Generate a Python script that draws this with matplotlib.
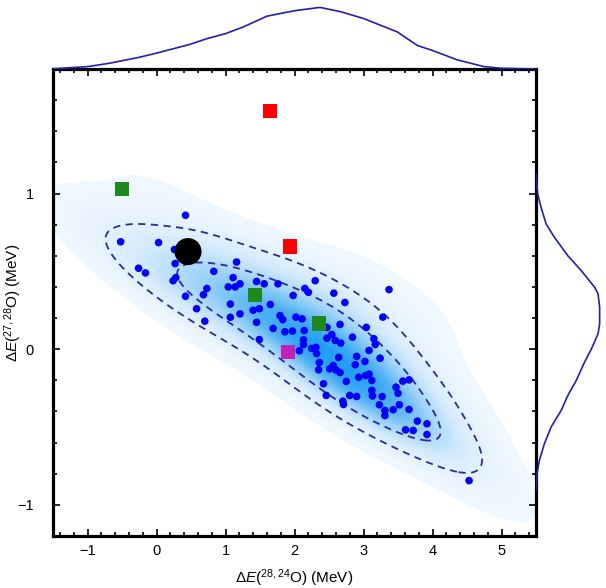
import numpy as np
import matplotlib
matplotlib.use("Agg")
from matplotlib import pyplot as plt
from matplotlib.colors import LinearSegmentedColormap
from matplotlib.ticker import MultipleLocator

plt.rcParams['font.family'] = ['Liberation Sans', 'DejaVu Sans']
plt.rcParams['mathtext.fontset'] = 'custom'
plt.rcParams['mathtext.rm'] = 'Liberation Sans'
plt.rcParams['mathtext.it'] = 'Liberation Sans:italic'

# scatter sample: dE(28,24O), dE(27,28O) in MeV
sample_x = [
    0.42, -0.52, 0.03, 0.26, 0.27, -0.26, -0.16, 0.28, 0.24, 0.83,
    1.16, 1.11, 1.04, 1.14, 1.21, 1.45, 1.56, 1.76, 0.73, 0.68,
    0.42, 0.58, 0.70, 1.07, 1.07, 1.21, 1.40, 1.49, 1.45, 1.49,
    1.65, 1.79, 1.83, 1.69, 1.86, 1.97, 1.98, 2.02, 2.11, 2.14,
    2.13, 2.13, 2.07, 2.30, 2.15, 2.20, 2.57, 2.73, 3.37, 3.28,
    3.04, 2.47, 2.66, 2.47, 2.54, 2.59, 2.67, 2.84, 3.15, 3.17,
    2.25, 2.31, 2.32, 3.08, 3.24, 2.64, 2.90, 2.88, 3.02, 2.36,
    2.35, 2.51, 2.56, 2.60, 2.66, 2.93, 3.03, 3.08, 3.12, 2.75,
    2.42, 3.57, 3.66, 3.47, 3.50, 3.12, 2.46, 2.80, 2.90, 3.13,
    3.27, 2.70, 2.71, 3.23, 3.31, 3.31, 3.43, 3.52, 3.66, 3.78,
    3.92, 3.92, 3.61, 3.72, 4.53,
]
sample_y = [
    0.86, 0.69, 0.685, 0.64, 0.55, 0.52, 0.49, 0.46, 0.44, 0.50,
    0.56, 0.46, 0.40, 0.40, 0.42, 0.435, 0.42, 0.42, 0.39, 0.35,
    0.34, 0.26, 0.18, 0.29, 0.205, 0.227, 0.25, 0.26, 0.173, 0.062,
    0.287, 0.216, 0.19, 0.133, 0.112, 0.116, 0.345, 0.206, 0.195, 0.12,
    0.06, 0.03, -0.01, 0.44, 0.39, 0.366, 0.36, 0.30, 0.383, 0.206,
    0.14, 0.14, 0.159, 0.071, 0.094, 0.056, 0.039, 0.077, 0.067, 0.03,
    0.005, 0.012, -0.028, -0.008, -0.058, -0.053, -0.046, -0.10, -0.079, -0.085,
    -0.132, -0.126, -0.105, -0.133, -0.15, -0.18, -0.169, -0.16, -0.201, -0.207,
    -0.222, -0.205, -0.197, -0.244, -0.283, -0.265, -0.297, -0.297, -0.304, -0.30,
    -0.304, -0.334, -0.355, -0.357, -0.394, -0.426, -0.389, -0.357, -0.387, -0.462,
    -0.479, -0.548, -0.518, -0.522, -0.844,
]

# model predictions
red_x, red_y = [1.65, 1.94], [1.53, 0.66]
green_x, green_y = [-0.50, 1.43, 2.35], [1.03, 0.35, 0.165]
magenta_x, magenta_y = [1.90], [-0.02]
exp_x, exp_y = [0.456], [0.627]

# marginal densities (arbitrary units)
top_pos = [-1.55, -1.0, -0.68, -0.24, 0.0, 0.48, 0.73, 1.0, 1.26, 1.6,
           2.0, 2.37, 2.67, 3.0, 3.49, 3.78, 4.0, 4.36, 4.75, 5.0, 5.5]
top_dens = [0.0, 2.3, 5.7, 11.7, 15.7, 24.3, 30.0, 35.0, 41.7, 52.3,
            57.7, 61.0, 56.7, 50.0, 36.7, 23.3, 18.3, 9.0, 2.3, 0.7, 0.0]
right_pos = [1.127, 0.998, 0.912, 0.805, 0.719, 0.60, 0.505, 0.398, 0.356, 0.27,
             0.163, 0.099, 0.0, -0.083, -0.201, -0.297, -0.394, -0.50, -0.608,
             -0.715, -0.80, -0.907]
right_dens = [0.0, 1.7, 5.0, 10.0, 18.3, 31.7, 45.0, 58.3, 61.7, 63.3,
              63.3, 61.7, 55.0, 48.3, 40.0, 31.7, 25.0, 15.0, 8.3,
              3.3, 1.0, 0.0]


def kde_grid(x, y, gx, gy, factor):
    data = np.vstack([x, y])
    cov = np.cov(data) * factor ** 2
    inv = np.linalg.inv(cov)
    norm = 1.0 / (2 * np.pi * np.sqrt(np.linalg.det(cov)) * data.shape[1])
    d0 = gx.ravel()[:, None] - data[0][None, :]
    d1 = gy.ravel()[:, None] - data[1][None, :]
    q = inv[0, 0] * d0 ** 2 + 2 * inv[0, 1] * d0 * d1 + inv[1, 1] * d1 ** 2
    return (np.exp(-0.5 * q).sum(axis=1) * norm).reshape(gx.shape)


def hdr_level(z, cell, mass):
    zs = np.sort(z.ravel())[::-1]
    cum = np.cumsum(zs) * cell
    return zs[np.searchsorted(cum, mass)]


xs = np.linspace(-1.5, 5.5, 350)
ys = np.linspace(-1.2, 1.8, 220)
GX, GY = np.meshgrid(xs, ys)
Z = kde_grid(np.array(sample_x), np.array(sample_y), GX, GY, 0.65)
cell = (xs[1] - xs[0]) * (ys[1] - ys[0])

fig = plt.figure(figsize=(6.06, 5.88), dpi=100)
ax = fig.add_axes([0.0875, 0.0884, 0.797, 0.7943])
ax_top = fig.add_axes([0.0875, 0.8827, 0.797, 0.1173], sharex=ax)
ax_right = fig.add_axes([0.8845, 0.0884, 0.1155, 0.7943], sharey=ax)

cmap = LinearSegmentedColormap.from_list(
    'kde', ['#f1f8ff', '#d0e9fc', '#94cff7', '#52b2f4', '#219ef2'])
lo = hdr_level(Z, cell, 0.985)
ax.contourf(GX, GY, Z, levels=np.linspace(lo, Z.max(), 40), cmap=cmap, zorder=1)
lv = sorted([hdr_level(Z, cell, 0.62), hdr_level(Z, cell, 0.88)])
ax.contour(GX, GY, Z, levels=lv, colors='#2b2b9e', linewidths=1.3,
           linestyles=[(0, (4, 3))], zorder=2)

ax.scatter(sample_x, sample_y, s=30, color='#0000ff', edgecolors='none', zorder=3)
ax.scatter(red_x, red_y, s=105, marker='s', color='#ff0000', edgecolors='none', zorder=4)
ax.scatter(green_x, green_y, s=105, marker='s', color='#1e8a1e', edgecolors='none', zorder=4)
ax.scatter(magenta_x, magenta_y, s=105, marker='s', color='#c020b8', edgecolors='none', zorder=4)
ax.scatter(exp_x, exp_y, s=380, color='black', edgecolors='none', zorder=5)

ax.set_xlim(-1.5, 5.5)
ax.set_ylim(-1.2, 1.8)
ax.xaxis.set_major_locator(MultipleLocator(1))
ax.xaxis.set_minor_locator(MultipleLocator(0.2))
ax.yaxis.set_major_locator(MultipleLocator(1))
ax.yaxis.set_minor_locator(MultipleLocator(0.2))
ax.tick_params(which='both', direction='in', top=True, right=True, width=1.2)
ax.tick_params(which='major', length=5, labelsize=10.5)
ax.tick_params(which='minor', length=3)
ax.tick_params(axis='x', which='major', pad=6)
ax.tick_params(axis='y', which='major', pad=14)
for sp in ax.spines.values():
    sp.set_linewidth(2.3)

ax.set_xlabel(r'$\Delta E(^{28,24}\mathrm{O})$ (MeV)', fontsize=11)
ax.set_ylabel(r'$\Delta E(^{27,28}\mathrm{O})$ (MeV)', fontsize=11)
ax.xaxis.set_label_coords(0.5, -0.068)
ax.yaxis.set_label_coords(-0.06, 0.5)

ax_top.plot(top_pos, top_dens, color='#2020b0', lw=1.2)
ax_top.set_ylim(0, max(top_dens) * 1.12)
ax_top.axis('off')

ax_right.plot(right_dens, right_pos, color='#2020b0', lw=1.2)
ax_right.set_xlim(0, max(right_dens) * 1.1)
ax_right.axis('off')

fig.savefig('out.png', dpi=100)
